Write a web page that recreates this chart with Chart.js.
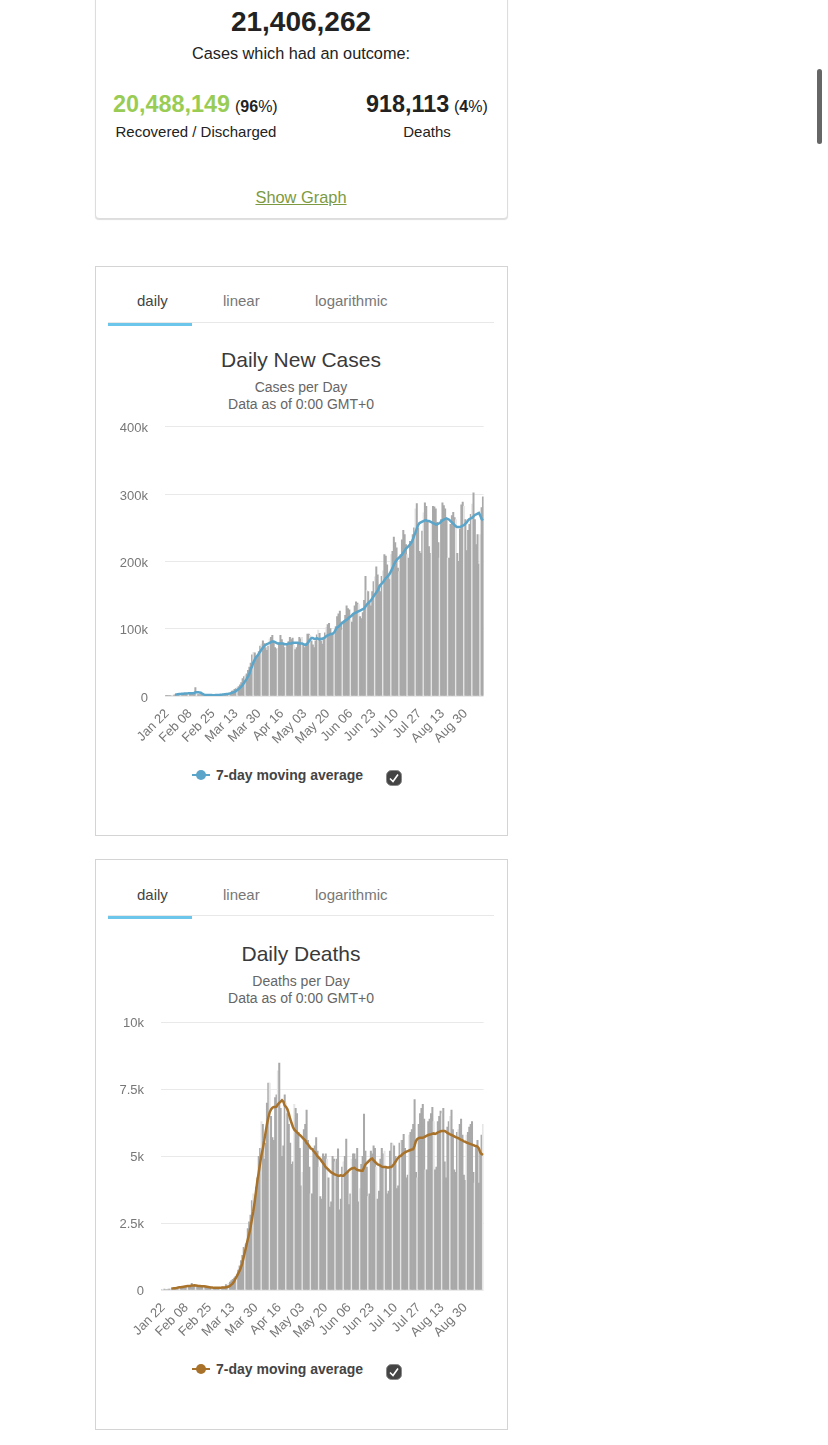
<!DOCTYPE html>
<html><head><meta charset="utf-8">
<script src="https://cdn.jsdelivr.net/npm/chart.js@4"></script>
<style>
html,body{margin:0;padding:0;background:#fff;overflow:hidden;width:828px;height:1445px;font-family:"Liberation Sans",Arial,sans-serif;color:#222}
.a{position:absolute;white-space:nowrap;line-height:1}
.c{transform:translateX(-50%)}
.card{position:absolute;left:95px;width:411px;box-sizing:content-box;border:1px solid #d4d4d4;background:#fff}
.tab{font-size:15px;color:#777}
.h{font-size:21px;color:#3a3a3a}
.s{font-size:14px;color:#666}
.lg{font-size:14px;font-weight:bold;color:#444}
canvas{position:absolute}
</style></head><body>
<div class="card" style="top:-20px;height:237px;border-radius:4px;border-color:#ddd;box-shadow:0 1px 1px #ddd"></div>
<div class="a c" style="left:301px;top:8px;font-size:28px;font-weight:bold">21,406,262</div>
<div class="a c" style="left:301px;top:45px;font-size:16.3px">Cases which had an outcome:</div>
<div class="a" style="left:113px;top:93px;font-size:23.4px;font-weight:bold;color:#9c5">20,488,149</div>
<div class="a" style="left:235px;top:99px;font-size:16px">(<b>96</b>%)</div>
<div class="a c" style="left:196px;top:124px;font-size:15px">Recovered / Discharged</div>
<div class="a" style="left:366px;top:93px;font-size:23.4px;font-weight:bold">918,113</div>
<div class="a" style="left:454px;top:99px;font-size:16px">(<b>4</b>%)</div>
<div class="a c" style="left:427px;top:124px;font-size:15px">Deaths</div>
<div class="a c" style="left:301px;top:189px;font-size:16.4px;color:#7c9a41;text-decoration:underline">Show Graph</div>
<div class="a" style="left:817px;top:69px;width:5px;height:75px;background:#666;border-radius:3px"></div>

<div class="card" style="top:265.5px;height:568px"></div>
<div class="a tab" style="left:137px;top:293px;color:#444">daily</div>
<div class="a tab" style="left:223px;top:293px">linear</div>
<div class="a tab" style="left:315px;top:293px">logarithmic</div>
<div class="a" style="left:108px;top:322px;width:386px;height:1px;background:#e8e8e8"></div>
<div class="a" style="left:108px;top:323px;width:84px;height:3px;background:#6cc5ea"></div>
<div class="a c h" style="left:301px;top:349px">Daily New Cases</div>
<div class="a c s" style="left:301px;top:380px">Cases per Day</div>
<div class="a c s" style="left:301px;top:397px">Data as of 0:00 GMT+0</div>
<canvas id="c1" style="left:108px;top:402px"></canvas>
<div class="a" style="left:192px;top:774px;width:18px;height:2px;background:#5aa5c9"></div>
<div class="a" style="left:196px;top:770px;width:10px;height:10px;border-radius:50%;background:#5aa5c9"></div>
<div class="a lg" style="left:216px;top:768px">7-day moving average</div>
<svg class="a" style="left:386px;top:770px" width="16" height="16" viewBox="0 0 16 16"><rect x="0.5" y="0.5" width="15" height="15" rx="5" fill="#444" stroke="#888"/><path d="M4 8.5l3 3 5-7" fill="none" stroke="#fff" stroke-width="1.6"/></svg>

<div class="card" style="top:859px;height:569px"></div>
<div class="a tab" style="left:137px;top:887px;color:#444">daily</div>
<div class="a tab" style="left:223px;top:887px">linear</div>
<div class="a tab" style="left:315px;top:887px">logarithmic</div>
<div class="a" style="left:108px;top:915px;width:386px;height:1px;background:#e8e8e8"></div>
<div class="a" style="left:108px;top:916px;width:84px;height:3px;background:#6cc5ea"></div>
<div class="a c h" style="left:301px;top:943px">Daily Deaths</div>
<div class="a c s" style="left:301px;top:974px">Deaths per Day</div>
<div class="a c s" style="left:301px;top:991px">Data as of 0:00 GMT+0</div>
<canvas id="c2" style="left:108px;top:998px"></canvas>
<div class="a" style="left:192px;top:1368px;width:18px;height:2px;background:#a8722a"></div>
<div class="a" style="left:196px;top:1364px;width:10px;height:10px;border-radius:50%;background:#a8722a"></div>
<div class="a lg" style="left:216px;top:1362px">7-day moving average</div>
<svg class="a" style="left:386px;top:1364px" width="16" height="16" viewBox="0 0 16 16"><rect x="0.5" y="0.5" width="15" height="15" rx="5" fill="#444" stroke="#888"/><path d="M4 8.5l3 3 5-7" fill="none" stroke="#fff" stroke-width="1.6"/></svg>
<script>
const tickDates = ["Jan 22","Feb 08","Feb 25","Mar 13","Mar 30","Apr 16","May 03","May 20","Jun 06","Jun 23","Jul 10","Jul 27","Aug 13","Aug 30"];
const tickEvery = 17;
const dayCount = 236;
const casesDaily = [
.6,.1,.3,.5,.7,.8,1.4,
1.7,1.7,2.0,2.1,2.6,2.8,3.2,
3.7,3.7,3.2,3.4,2.6,3.0,2.5,
2.0,12.5,6.5,2.1,2.0,2.0,1.9,
.5,.6,1.0,1.0,1.6,1.2,1.0,
1.1,1.4,1.9,1.8,2.0,1.9,2.3,
2.5,2.7,3.9,4.0,3.7,4.6,4.9,
7.2,7.6,9.8,11,13,14,16.5,
20,26,29,31,33,38,43,
49,61,65,64,58,60,66,
74,77,82,78,72,68,74,
85,87,90,80,72,70,71,
79,90,84,78,72,72,76,
81,87,84,86,75,69,72,
78,87,85,87,78,72,78,
92,92,90,82,76,72,82,
91,98,93,82,77,87,94,
102,106,108,100,92,92,92,
103,118,122,126,110,98,112,
120,134,130,128,112,110,122,
134,140,138,136,118,115,124,
142,178,157,155,138,134,155,
170,177,192,180,165,155,178,
186,210,208,195,178,173,210,
215,236,228,220,190,185,210,
232,246,240,225,210,205,230,
228,240,250,278,286,250,215,
212,245,272,287,282,258,222,
212,255,282,281,278,258,228,
205,262,287,283,278,262,205,
205,255,268,273,265,262,212,
200,248,284,288,282,262,216,
246,255,270,285,302,262,225,
240,196,240,280,296];
const casesAvg = [
null,null,null,null,null,null,null,
2.0,2.4,2.7,2.9,3.1,3.3,3.4,
3.6,3.8,3.9,4.0,4.0,4.1,4.1,
4.2,5.5,5.6,5.5,5.3,4.9,3.6,
2.4,1.8,1.6,1.5,1.5,1.4,1.4,
1.3,1.3,1.4,1.5,1.6,1.7,1.9,
2.1,2.4,2.7,2.9,3.1,3.5,3.9,
4.6,5.3,6.2,7.3,8.8,10.2,12.0,
13.9,16.5,19.4,22.5,25.5,29,33,
40,44,50,54,58,60,63,
66,69,72,74,76,77,78,
79,80,81,81,80,79,78,
78,78,78,78,77,77,77,
78,78,78,79,79,79,79,
79,78,78,78,77,76,76,
78,81,84,86,86,85,85,
86,85,84,85,85,86,87,
89,90,91,92,92,93,95,
99,102,103,105,107,109,110,
112,113,115,117,118,120,122,
123,124,125,126,127,128,129,
130,133,136,138,140,142,145,
148,151,154,157,161,165,167,
169,172,175,177,179,182,186,
190,195,199,202,204,206,208,
210,213,216,219,221,223,225,
228,232,238,243,249,254,257,
258,259,260,261,261,260,260,
259,258,257,256,255,255,256,
257,259,261,262,263,264,263,
262,260,258,256,254,252,251,
251,251,252,253,254,256,258,
261,263,264,265,267,269,270,
271,272,268,263,261];
const deathsDaily = [
.02,.01,.03,.02,.02,.03,.03,
.03,.04,.04,.05,.06,.06,.07,
.07,.07,.09,.08,.10,.11,.10,
.10,.25,.14,.14,.10,.10,.10,
.13,.12,.11,.10,.15,.10,.08,
.06,.06,.06,.07,.08,.07,.09,
.09,.10,.10,.11,.10,.20,.17,
.25,.30,.35,.40,.45,.50,.60,
.75,.90,1.1,1.3,1.6,1.7,1.75,
2.3,2.55,2.8,3.35,3.6,3.2,3.85,
4.2,5.0,5.3,6.3,6.2,4.9,5.5,
7.0,7.74,7.74,6.5,5.7,5.6,7.2,
7.3,8.2,8.49,6.8,5.0,5.4,7.3,
7.0,6.6,6.2,5.5,4.7,4.8,6.95,
6.8,6.6,5.9,5.3,3.9,4.4,6.0,
6.2,6.73,5.6,4.6,3.6,3.6,5.3,
5.4,5.7,5.2,4.6,3.5,3.4,5.1,
5.0,5.1,4.9,4.2,3.1,3.3,5.0,
4.9,4.8,4.9,5.28,3.0,3.4,4.6,
4.8,5.0,5.65,4.4,3.2,3.6,4.9,
5.1,5.1,4.9,5.3,3.3,3.8,4.7,
5.0,6.58,5.2,4.6,3.5,3.6,5.2,
5.1,5.4,5.3,4.6,3.4,3.7,4.9,
5.3,5.1,5.2,4.6,3.6,3.7,5.2,
5.5,5.47,5.4,5.0,3.8,3.9,5.5,
5.6,5.6,5.83,5.3,4.2,4.3,5.8,
5.9,6.0,6.2,7.13,4.4,4.2,6.2,
6.6,6.8,6.95,6.4,4.5,4.5,6.3,
6.4,6.6,6.84,6.3,4.5,4.6,6.3,
6.5,6.7,6.6,6.8,4.8,4.2,6.1,
6.3,6.5,6.73,6.0,4.5,4.4,5.9,
6.0,6.2,6.4,5.8,4.3,4.1,5.8,
5.9,6.1,6.2,6.3,4.4,4.0,5.4,
5.6,4.0,5.2,5.8,6.2];
const deathsAvg = [
null,null,null,null,null,null,null,
.05,.06,.07,.07,.08,.09,.10,
.10,.11,.12,.13,.14,.15,.15,
.15,.17,.17,.18,.17,.16,.15,
.15,.14,.14,.14,.13,.12,.11,
.10,.09,.09,.08,.08,.08,.08,
.08,.08,.09,.09,.09,.10,.11,
.13,.16,.20,.25,.32,.43,.52,
.62,.72,.85,1.0,1.24,1.45,1.68,
1.9,2.1,2.35,2.65,2.95,3.3,3.7,
4.09,4.4,4.75,5.05,5.3,5.58,5.9,
6.2,6.45,6.65,6.76,6.82,6.85,6.85,
6.86,6.95,7.0,7.05,7.1,7.05,6.9,
6.85,6.76,6.6,6.4,6.25,6.1,6.0,
5.95,5.9,5.85,5.8,5.76,5.7,5.65,
5.6,5.5,5.45,5.38,5.3,5.28,5.2,
5.15,5.08,5.0,4.95,4.9,4.82,4.75,
4.68,4.6,4.55,4.5,4.45,4.4,4.38,
4.34,4.32,4.3,4.28,4.28,4.29,4.28,
4.28,4.33,4.38,4.42,4.48,4.52,4.55,
4.56,4.57,4.53,4.5,4.48,4.47,4.46,
4.46,4.58,4.7,4.75,4.8,4.85,4.9,
4.92,4.85,4.8,4.75,4.7,4.68,4.65,
4.62,4.6,4.6,4.6,4.58,4.58,4.6,
4.6,4.65,4.72,4.8,4.88,4.95,5.0,
5.02,5.08,5.12,5.15,5.18,5.2,5.22,
5.24,5.26,5.27,5.4,5.58,5.65,5.68,
5.7,5.7,5.7,5.72,5.75,5.78,5.8,
5.82,5.83,5.85,5.86,5.84,5.86,5.9,
5.92,5.94,5.95,5.95,5.95,5.92,5.88,
5.85,5.82,5.8,5.78,5.75,5.72,5.7,
5.68,5.65,5.62,5.6,5.56,5.55,5.52,
5.5,5.48,5.46,5.44,5.42,5.4,5.39,
5.36,5.3,5.15,5.09,5.05];
const dayLabels = [];
{ let t = Date.UTC(2020,0,22);
  const mon = ["Jan","Feb","Mar","Apr","May","Jun","Jul","Aug","Sep"];
  for (let i=0;i<dayCount;i++){ const d=new Date(t+i*864e5);
    dayLabels.push(mon[d.getUTCMonth()]+" "+String(d.getUTCDate()).padStart(2,"0")); } }
function draw(id, barData, avgData, lineColor, yMax, step, axisW, canvasH, axisH, padTop, stripePhase, yLabelShift){
  const cv = document.getElementById(id);
  cv.width = 388; cv.height = canvasH;
  cv.style.width='388px'; cv.style.height=canvasH+'px';
  new Chart(cv, {
    type:'bar',
    data:{labels:dayLabels, datasets:[
      {type:'line',label:'7-day moving average',data:avgData,borderColor:lineColor,borderWidth:2.5,pointRadius:0,tension:0,order:0,spanGaps:false},
      {type:'bar',label:'Daily',data:barData,
       backgroundColor:c=> c.dataIndex%6===stripePhase ? '#e6e6e6' : '#a9a9a9',
       barPercentage:1,categoryPercentage:1,order:1}
    ]},
    options:{responsive:false,animation:false,devicePixelRatio:1,
      layout:{padding:{top:padTop,right:7,left:0,bottom:0}},
      plugins:{legend:{display:false},tooltip:{enabled:false},title:{display:false}},
      scales:{
        x:{grid:{display:false},border:{display:false},
          afterFit:s=>{s.height=axisH},
          ticks:{autoSkip:false,maxRotation:45,minRotation:45,padding:2,labelOffset:1.5,color:'#777',font:{size:13,family:'"Liberation Sans"'},
            callback:(v,i)=> i%tickEvery===0 ? tickDates[i/tickEvery] : ''}},
        y:{min:0,max:yMax,grid:{color:'#e9e9e9',drawTicks:false},border:{display:false},
          afterFit:s=>{s.width=axisW},
          ticks:{stepSize:step,padding:17,labelOffset:yLabelShift,color:'#777',font:{size:13,family:'"Liberation Sans"'},
            callback:v=> v===0?'0':v+'k'}}
      }}
  });
}
draw('c1',casesDaily,casesAvg,'#5aa5c9',400,100,57,358,64,11,5,2);
draw('c2',deathsDaily,deathsAvg,'#a8722a',10,2.5,53,356,64,11,1,1);
</script>
</body></html>
